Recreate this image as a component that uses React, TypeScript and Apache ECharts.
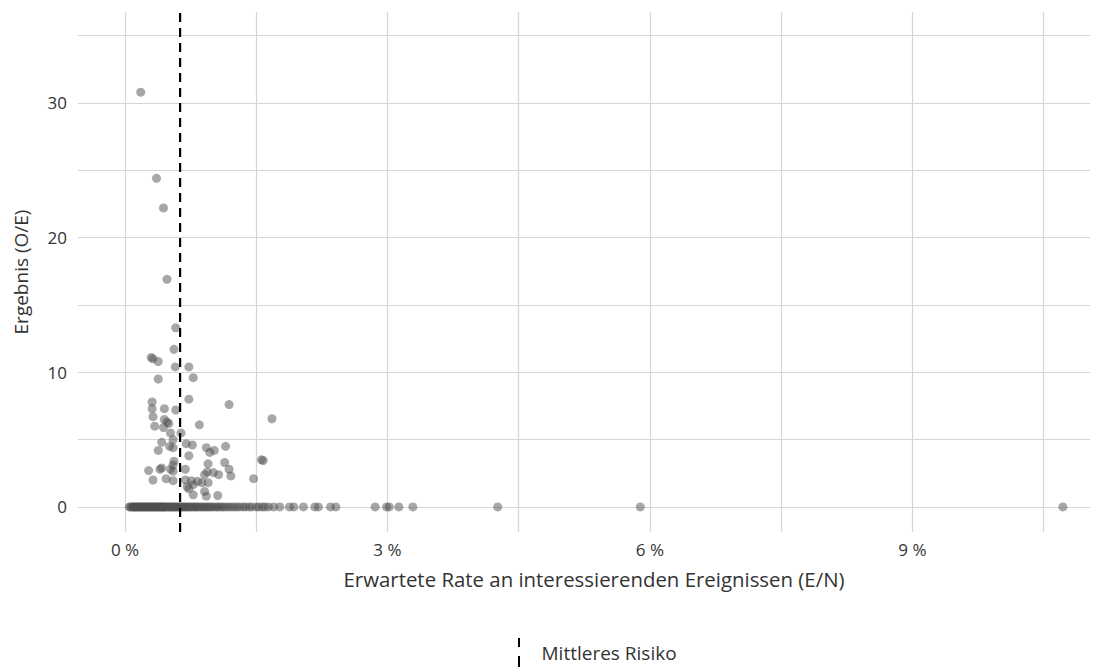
import React, { useEffect, useRef } from "react";
import * as echarts from "echarts";

// Expected rate (E/N, in %) and outcome (O/E) for providers with events
const posX = [0.18, 0.36, 0.44, 0.48, 0.58, 0.56, 0.30, 0.32, 0.38, 0.575, 0.73, 0.38, 0.78, 0.73, 1.19, 0.31, 0.31, 0.45, 0.58, 0.32, 1.68, 0.48, 0.34, 0.85, 0.45, 0.50, 0.44, 0.52, 0.64, 0.55, 0.42, 0.38, 0.51, 0.55, 0.70, 0.77, 0.73, 0.93, 0.97, 1.02, 1.15, 0.95, 1.14, 1.56, 1.58, 0.56, 0.55, 0.42, 0.27, 0.40, 0.52, 0.55, 0.69, 0.94, 1.01, 1.07, 1.19, 1.21, 0.91, 0.32, 0.47, 0.55, 0.69, 0.76, 0.83, 0.88, 0.95, 1.47, 0.71, 0.73, 0.78, 0.91, 0.93, 0.78, 1.06];
const posY = [30.8, 24.4, 22.2, 16.9, 13.3, 11.7, 11.1, 11.0, 10.8, 10.4, 10.4, 9.5, 9.6, 8.0, 7.6, 7.8, 7.3, 7.3, 7.2, 6.7, 6.55, 6.3, 6.0, 6.1, 6.5, 6.2, 5.9, 5.5, 5.5, 5.0, 4.8, 4.2, 4.5, 4.4, 4.7, 4.6, 3.8, 4.4, 4.05, 4.2, 4.5, 3.2, 3.3, 3.5, 3.45, 3.4, 3.1, 2.9, 2.7, 2.8, 2.8, 2.65, 2.8, 2.6, 2.55, 2.4, 2.8, 2.3, 2.4, 2.0, 2.1, 1.95, 2.0, 1.95, 1.9, 1.8, 1.8, 2.1, 1.5, 1.35, 1.65, 1.15, 0.8, 0.9, 0.85];
// Expected rate (in %) for providers with no observed events (O/E = 0)
const zeroX = [0.05, 0.06, 0.08, 0.09, 0.1, 0.11, 0.12, 0.13, 0.14, 0.15, 0.16, 0.17, 0.18, 0.19, 0.2, 0.21, 0.22, 0.23, 0.24, 0.25, 0.26, 0.27, 0.28, 0.29, 0.3, 0.31, 0.32, 0.33, 0.34, 0.35, 0.36, 0.37, 0.38, 0.39, 0.4, 0.41, 0.42, 0.43, 0.44, 0.45, 0.46, 0.47, 0.48, 0.5, 0.51, 0.52, 0.53, 0.55, 0.56, 0.57, 0.58, 0.6, 0.61, 0.62, 0.64, 0.65, 0.67, 0.68, 0.7, 0.71, 0.73, 0.74, 0.76, 0.78, 0.8, 0.81, 0.83, 0.85, 0.87, 0.89, 0.91, 0.93, 0.95, 0.97, 0.99, 1.01, 1.04, 1.06, 1.08, 1.11, 1.13, 1.16, 1.19, 1.22, 1.25, 1.28, 1.31, 1.35, 1.38, 1.42, 1.45, 1.5, 1.53, 1.57, 1.6, 1.64, 1.7, 1.77, 1.88, 1.93, 2.04, 2.17, 2.21, 2.35, 2.41, 2.86, 2.99, 3.02, 3.13, 3.29, 4.26, 5.89, 10.72];
const zeroY = 0;
const meanRisk = 0.63;

const xGridValues = [0, 1.5, 3, 4.5, 6, 7.5, 9, 10.5];
const xLabelValues = [0, 3, 6, 9];
const yGridValues = [0, 5, 10, 15, 20, 25, 30, 35];
const yLabelValues = [0, 10, 20, 30];
const xRange = [-0.537, 11.03];
const yRange = [-1.86, 36.75];

const xTitle = "Erwartete Rate an interessierenden Ereignissen (E/N)";
const yTitle = "Ergebnis (O/E)";
const legendName = "Mittleres Risiko";

export default function App() {
  const ref = useRef<HTMLDivElement>(null);
  useEffect(() => {
    if (!ref.current) return;
    const chart = echarts.init(ref.current, null, { renderer: "svg" });
    const font = "'Open Sans', 'Noto Sans', sans-serif";
    const points: number[][] = [];
    zeroX.forEach((x) => points.push([x, zeroY]));
    posX.forEach((x, i) => points.push([x, posY[i]]));
    chart.setOption({
      animation: false,
      textStyle: { fontFamily: font },
      grid: { left: 78, right: 16, top: 12, bottom: 139 },
      legend: {
        data: [
          {
            name: legendName,
            icon: "path://M0,0h2v9h-2z M0,18h2v11h-2z",
          },
        ],
        left: 518,
        top: 638,
        padding: 0,
        itemWidth: 3,
        itemHeight: 29,
        textStyle: { fontFamily: font, fontSize: 19, color: "#333", padding: [0, 0, 0, 16] },
        selectedMode: false,
      },
      xAxis: {
        type: "value",
        min: xRange[0],
        max: xRange[1],
        name: xTitle,
        nameLocation: "middle",
        nameGap: 37,
        nameTextStyle: { fontFamily: font, fontSize: 20.4, color: "#333", padding: [0, 0, 0, 20] },
        axisLine: { show: false },
        axisTick: { show: false, customValues: xGridValues },
        axisLabel: {
          customValues: xLabelValues,
          formatter: (v: number) => `${v} %`,
          fontFamily: font,
          fontSize: 17,
          color: "#333",
          margin: 9,
        },
        splitLine: { show: true, lineStyle: { color: "#d6d6d6", width: 1.2 } },
      },
      yAxis: {
        type: "value",
        min: yRange[0],
        max: yRange[1],
        name: yTitle,
        nameLocation: "middle",
        nameGap: 48,
        nameTextStyle: { fontFamily: font, fontSize: 19, color: "#333" },
        axisLine: { show: false },
        axisTick: { show: false, customValues: yGridValues },
        axisLabel: {
          customValues: yLabelValues,
          fontFamily: font,
          fontSize: 17,
          color: "#333",
          margin: 11,
        },
        splitLine: { show: true, lineStyle: { color: "#d6d6d6", width: 1.2 } },
      },
      series: [
        {
          type: "scatter",
          name: "points",
          data: points,
          symbolSize: 9,
          itemStyle: { color: "#505050", opacity: 0.5 },
          z: 2,
        },
        {
          type: "line",
          name: legendName,
          data: [
            [meanRisk, yRange[0]],
            [meanRisk, yRange[1]],
          ],
          showSymbol: false,
          symbol: "none",
          lineStyle: { color: "#000", width: 2.2, type: [9, 6] },
          itemStyle: { color: "#000" },
          z: 3,
        },
      ],
    });
    return () => chart.dispose();
  }, []);
  return (
    <div
      ref={ref}
      style={{ position: "fixed", left: 0, top: 0, width: 1106, height: 671, background: "#fff" }}
    />
  );
}
